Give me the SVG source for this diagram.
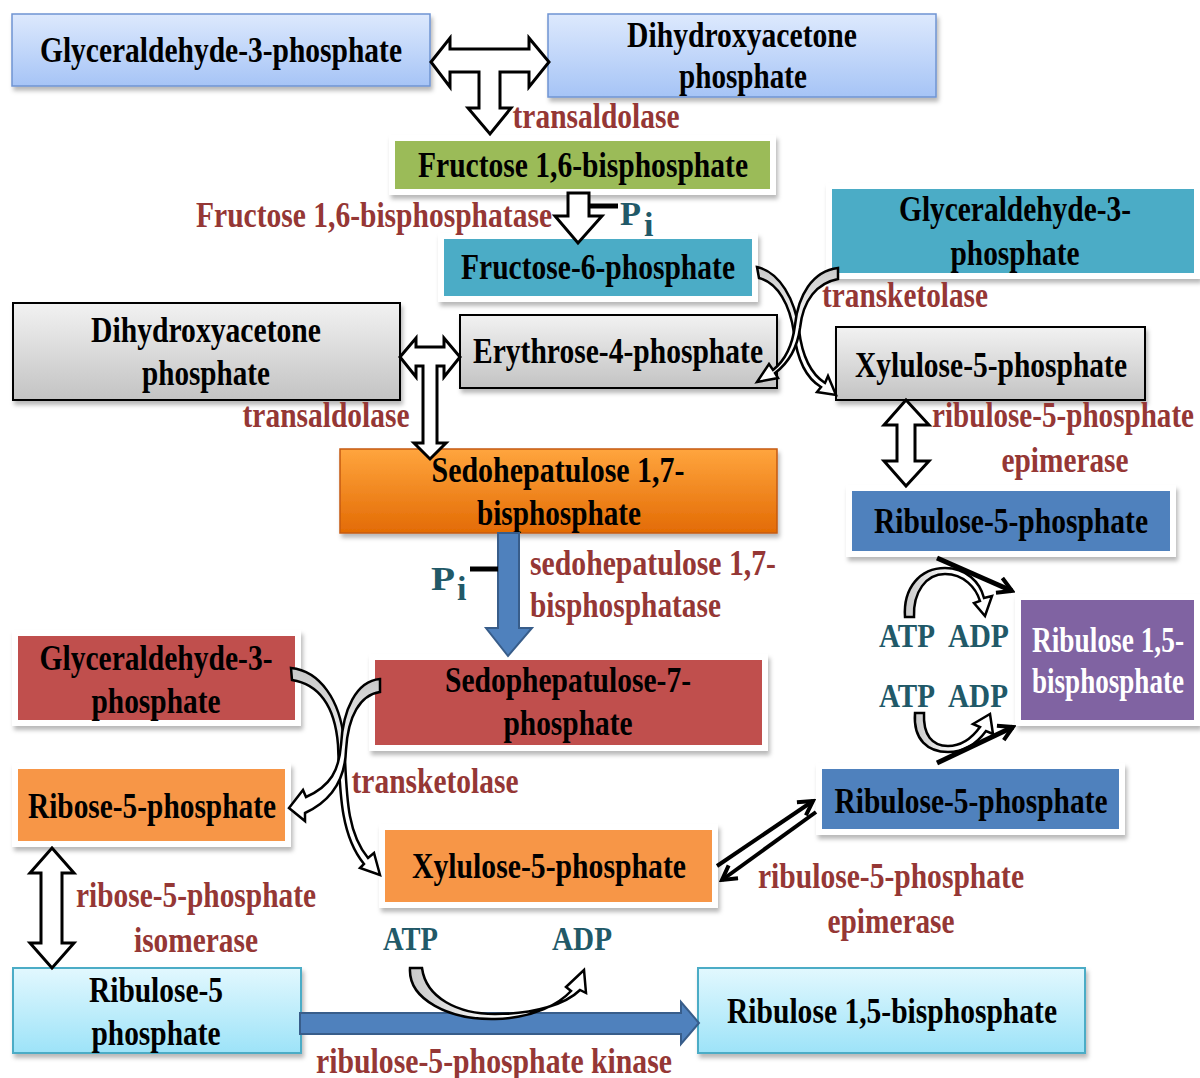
<svg xmlns="http://www.w3.org/2000/svg" width="1200" height="1078" viewBox="0 0 1200 1078">
<defs>
<filter id="sh" x="-5%" y="-10%" width="115%" height="135%">
<feDropShadow dx="2" dy="4" stdDeviation="2" flood-color="#000" flood-opacity="0.28"/>
</filter>
<linearGradient id="gLB" x1="0" y1="0" x2="0" y2="1"><stop offset="0" stop-color="#dde9fd"/><stop offset="1" stop-color="#a6c4f6"/></linearGradient>
<linearGradient id="gGray" x1="0" y1="0" x2="0" y2="1"><stop offset="0" stop-color="#f2f2f2"/><stop offset="1" stop-color="#c3c3c3"/></linearGradient>
<linearGradient id="gCyan" x1="0" y1="0" x2="0" y2="1"><stop offset="0" stop-color="#e2f8fe"/><stop offset="1" stop-color="#9de3f8"/></linearGradient>
<linearGradient id="gOr" x1="0" y1="0" x2="0" y2="1"><stop offset="0" stop-color="#ffa53e"/><stop offset="1" stop-color="#e36b04"/></linearGradient>
<linearGradient id="hL" x1="0" y1="0" x2="1" y2="0"><stop offset="0" stop-color="#c8c8c8"/><stop offset="0.55" stop-color="#ffffff"/></linearGradient>
<linearGradient id="hV" x1="0" y1="0" x2="0" y2="1"><stop offset="0" stop-color="#c8c8c8"/><stop offset="0.55" stop-color="#ffffff"/></linearGradient>
<marker id="vh" viewBox="0 0 20 20" refX="17" refY="10" markerWidth="20" markerHeight="20" markerUnits="userSpaceOnUse" orient="auto">
<path d="M3,2 L17,10 L3,18" fill="none" stroke="#000" stroke-width="4"/>
</marker>
<style>
.t{font-family:"Liberation Serif","Times New Roman",serif;font-weight:bold;font-size:36px;fill:#000;text-anchor:middle}
.lab{font-family:"Liberation Serif","Times New Roman",serif;font-weight:bold;font-size:36px;fill:#953735;text-anchor:middle}
.tl{font-family:"Liberation Serif","Times New Roman",serif;font-weight:bold;font-size:34px;fill:#215968}
.w{fill:#fff}
.fr{stroke:#fff;stroke-width:6;filter:url(#sh)}
.hol{fill:#fff;stroke:#000;stroke-width:3;stroke-linejoin:miter}
.blue{fill:#4f81bd;stroke:#385d8a;stroke-width:2}
.curv{stroke:#000;stroke-width:2.5;stroke-linejoin:miter}
.ln{stroke:#000;fill:none;marker-end:url(#vh)}
</style>
</defs>

<g id="n-g3p-top">
<rect x="12" y="14" width="418" height="72" fill="url(#gLB)" stroke="#6f94d2" stroke-width="1.5" filter="url(#sh)"/>
<text class="t" x="221" y="62" textLength="362" lengthAdjust="spacingAndGlyphs">Glyceraldehyde-3-phosphate</text>
</g>
<g id="n-dhap-top">
<rect x="548" y="14" width="388" height="83" fill="url(#gLB)" stroke="#6f94d2" stroke-width="1.5" filter="url(#sh)"/>
<text class="t" x="742" y="47" textLength="230" lengthAdjust="spacingAndGlyphs">Dihydroxyacetone</text>
<text class="t" x="743" y="88" textLength="128" lengthAdjust="spacingAndGlyphs">phosphate</text>
</g>
<g id="n-f16bp">
<rect x="392" y="138" width="381" height="54" fill="#9bbb59" class="fr"/>
<text class="t" x="583" y="177" textLength="330" lengthAdjust="spacingAndGlyphs">Fructose 1,6-bisphosphate</text>
</g>
<g id="n-f6p">
<rect x="441" y="236" width="314" height="63" fill="#4bacc6" class="fr"/>
<text class="t" x="598" y="279" textLength="274" lengthAdjust="spacingAndGlyphs">Fructose-6-phosphate</text>
</g>
<g id="n-g3p-right">
<rect x="829" y="186" width="368" height="90" fill="#4bacc6" class="fr"/>
<text class="t" x="1015" y="221" textLength="232" lengthAdjust="spacingAndGlyphs">Glyceraldehyde-3-</text>
<text class="t" x="1015" y="265" textLength="129" lengthAdjust="spacingAndGlyphs">phosphate</text>
</g>
<g id="n-dhap-gray">
<rect x="13" y="303" width="387" height="97" fill="url(#gGray)" stroke="#000" stroke-width="2" filter="url(#sh)"/>
<text class="t" x="206" y="342" textLength="230" lengthAdjust="spacingAndGlyphs">Dihydroxyacetone</text>
<text class="t" x="206" y="385" textLength="128" lengthAdjust="spacingAndGlyphs">phosphate</text>
</g>
<g id="n-e4p">
<rect x="460" y="315" width="317" height="73" fill="url(#gGray)" stroke="#000" stroke-width="2" filter="url(#sh)"/>
<text class="t" x="618" y="363" textLength="290" lengthAdjust="spacingAndGlyphs">Erythrose-4-phosphate</text>
</g>
<g id="n-xu5p-gray">
<rect x="836" y="327" width="309" height="73" fill="url(#gGray)" stroke="#000" stroke-width="2" filter="url(#sh)"/>
<text class="t" x="991" y="377" textLength="272" lengthAdjust="spacingAndGlyphs">Xylulose-5-phosphate</text>
</g>
<g id="n-s17bp">
<rect x="340" y="449" width="437" height="84" fill="url(#gOr)" stroke="#c55a11" stroke-width="1.5" filter="url(#sh)"/>
<text class="t" x="558" y="482" textLength="253" lengthAdjust="spacingAndGlyphs">Sedohepatulose 1,7-</text>
<text class="t" x="559" y="525" textLength="164" lengthAdjust="spacingAndGlyphs">bisphosphate</text>
</g>
<g id="n-ru5p-upper">
<rect x="849" y="488" width="324" height="66" fill="#4f81bd" class="fr"/>
<text class="t" x="1011" y="533" textLength="274" lengthAdjust="spacingAndGlyphs">Ribulose-5-phosphate</text>
</g>
<g id="n-rubp-purple">
<rect x="1018" y="597" width="179" height="126" fill="#8064a2" class="fr"/>
<text class="t w" x="1108" y="652" textLength="152" lengthAdjust="spacingAndGlyphs">Ribulose 1,5-</text>
<text class="t w" x="1108" y="693" textLength="152" lengthAdjust="spacingAndGlyphs">bisphosphate</text>
</g>
<g id="n-g3p-red">
<rect x="15" y="633" width="283" height="90" fill="#c0504d" class="fr"/>
<text class="t" x="156" y="670" textLength="233" lengthAdjust="spacingAndGlyphs">Glyceraldehyde-3-</text>
<text class="t" x="156" y="713" textLength="129" lengthAdjust="spacingAndGlyphs">phosphate</text>
</g>
<g id="n-s7p">
<rect x="372" y="657" width="393" height="91" fill="#c0504d" class="fr"/>
<text class="t" x="568" y="692" textLength="246" lengthAdjust="spacingAndGlyphs">Sedophepatulose-7-</text>
<text class="t" x="568" y="735" textLength="129" lengthAdjust="spacingAndGlyphs">phosphate</text>
</g>
<g id="n-r5p">
<rect x="15" y="766" width="273" height="78" fill="#f79646" class="fr"/>
<text class="t" x="152" y="818" textLength="248" lengthAdjust="spacingAndGlyphs">Ribose-5-phosphate</text>
</g>
<g id="n-xu5p-orange">
<rect x="382" y="827" width="333" height="78" fill="#f79646" class="fr"/>
<text class="t" x="549" y="878" textLength="274" lengthAdjust="spacingAndGlyphs">Xylulose-5-phosphate</text>
</g>
<g id="n-ru5p-lower">
<rect x="819" y="766" width="303" height="66" fill="#4f81bd" class="fr"/>
<text class="t" x="971" y="813" textLength="273" lengthAdjust="spacingAndGlyphs">Ribulose-5-phosphate</text>
</g>
<g id="n-ru5p-cyan">
<rect x="13" y="968" width="288" height="85" fill="url(#gCyan)" stroke="#4bacc6" stroke-width="2" filter="url(#sh)"/>
<text class="t" x="156" y="1002" textLength="134" lengthAdjust="spacingAndGlyphs">Ribulose-5</text>
<text class="t" x="156" y="1045" textLength="129" lengthAdjust="spacingAndGlyphs">phosphate</text>
</g>
<g id="n-rubp-cyan">
<rect x="698" y="968" width="387" height="85" fill="url(#gCyan)" stroke="#4bacc6" stroke-width="2" filter="url(#sh)"/>
<text class="t" x="892" y="1023" textLength="330" lengthAdjust="spacingAndGlyphs">Ribulose 1,5-bisphosphate</text>
</g>

<g id="connectors">
<polygon class="hol" points="431,62 450,38 450,49 529,49 529,38 549,62 529,87 529,72 500,72 500,108 511,108 490,134 468,108 479,108 479,72 450,72 450,87"/>
<polygon class="hol" points="568,193 589,193 589,216 602,216 578,243 555,216 568,216"/>
<line x1="589" y1="206" x2="618" y2="206" stroke="#000" stroke-width="5"/>
<polygon class="hol" points="400,357 416,338 416,347 444,347 444,338 460,357 444,377 444,366 437,366 437,443 446,443 430,459 414,443 423,443 423,366 416,366 416,377"/>
<polygon class="hol" points="906,400 929,425 915,425 915,461 929,461 906,486 884,461 897,461 897,425 884,425"/>
<polygon class="hol" points="52,848 74,873 62,873 62,943 74,943 52,968 30,943 41,943 41,873 30,873"/>
<polygon class="blue" points="498,533 519,533 519,628 532,628 508,656 486,628 498,628"/>
<line x1="470" y1="569" x2="498" y2="569" stroke="#000" stroke-width="5"/>
<polygon class="blue" points="300,1013 681,1013 681,1002 699,1023 681,1044 681,1034 300,1034"/>
<path class="curv" fill="url(#hV)" d="M757,267 C780,272 795,300 799,330 C802,355 811,374 825,383 L828,376 L836,395 L817,392 L821,387 C806,378 797,358 794,333 C790,305 778,283 759,278 Z"/>
<path class="curv" fill="url(#hV)" d="M838,268 C812,271 798,296 795,325 C792,350 783,362 773,370 L769,364 L757,382 L778,378 L775,373 C787,364 797,350 800,328 C803,300 817,283 838,279 Z"/>
<path class="curv" fill="url(#hV)" d="M291,668 C320,671 340,700 344,740 C347,790 345,830 368,858 L374,853 L380,875 L360,868 L364,864 C340,835 340,790 338,745 C335,705 318,684 292,680 Z"/>
<path class="curv" fill="url(#hV)" d="M380,679 C356,681 343,710 341,745 C339,770 331,786 306,797 L303,790 L289,808 L305,821 L305,813 C331,801 345,781 346,750 C348,716 360,695 380,692 Z"/>
<path class="curv" fill="url(#hL)" d="M410,968 C408,1000 450,1020 495,1019 C535,1018 560,1003 571,991 L566,987 L584,970 L586,993 L580,990 C566,1004 535,1014 495,1014 C458,1014 426,998 422,968 Z"/>
<path class="curv" fill="url(#hL)" d="M905,617 C903,588 920,568 945,568 C966,568 980,582 984,598 L992,596 L985,616 L974,603 L980,601 C976,588 964,574 945,574 C926,574 913,592 914,617 Z"/>
<path class="curv" fill="url(#hL)" d="M915,713 C913,740 928,752 948,752 C965,752 978,742 986,731 L993,734 L990,714 L973,724 L980,727 C972,738 962,746 948,746 C932,746 923,735 924,713 Z"/>
<line class="ln" x1="937" y1="558" x2="1012" y2="591" stroke-width="5"/>
<line class="ln" x1="937" y1="763" x2="1013" y2="727" stroke-width="5"/>
<line class="ln" x1="717" y1="866" x2="813" y2="801" stroke-width="4"/>
<line class="ln" x1="816" y1="812" x2="722" y2="880" stroke-width="4"/>
</g>

<g id="labels">
<text class="lab" x="596" y="128" textLength="167" lengthAdjust="spacingAndGlyphs">transaldolase</text>
<text class="lab" x="374" y="227" textLength="356" lengthAdjust="spacingAndGlyphs">Fructose 1,6-bisphosphatase</text>
<text class="tl" x="620" y="225" font-size="38" textLength="21" lengthAdjust="spacingAndGlyphs">P</text>
<text class="tl" x="644" y="236" font-size="26">i</text>
<text class="lab" x="905" y="307" textLength="166" lengthAdjust="spacingAndGlyphs">transketolase</text>
<text class="lab" x="326" y="427" textLength="167" lengthAdjust="spacingAndGlyphs">transaldolase</text>
<text class="lab" x="1063" y="427" textLength="262" lengthAdjust="spacingAndGlyphs">ribulose-5-phosphate</text>
<text class="lab" x="1065" y="472" textLength="127" lengthAdjust="spacingAndGlyphs">epimerase</text>
<text class="tl" x="431" y="590" font-size="50" textLength="24" lengthAdjust="spacingAndGlyphs">P</text>
<text class="tl" x="457" y="600" font-size="30">i</text>
<text class="lab" x="530" y="575" style="text-anchor:start" textLength="246" lengthAdjust="spacingAndGlyphs">sedohepatulose 1,7-</text>
<text class="lab" x="530" y="617" style="text-anchor:start" textLength="191" lengthAdjust="spacingAndGlyphs">bisphosphatase</text>
<text class="tl" x="879" y="647" textLength="56" lengthAdjust="spacingAndGlyphs">ATP</text>
<text class="tl" x="948" y="647" textLength="61" lengthAdjust="spacingAndGlyphs">ADP</text>
<text class="tl" x="879" y="707" textLength="56" lengthAdjust="spacingAndGlyphs">ATP</text>
<text class="tl" x="948" y="707" textLength="60" lengthAdjust="spacingAndGlyphs">ADP</text>
<text class="lab" x="435" y="793" textLength="167" lengthAdjust="spacingAndGlyphs">transketolase</text>
<text class="lab" x="891" y="888" textLength="266" lengthAdjust="spacingAndGlyphs">ribulose-5-phosphate</text>
<text class="lab" x="891" y="933" textLength="127" lengthAdjust="spacingAndGlyphs">epimerase</text>
<text class="lab" x="196" y="907" textLength="240" lengthAdjust="spacingAndGlyphs">ribose-5-phosphate</text>
<text class="lab" x="196" y="952" textLength="124" lengthAdjust="spacingAndGlyphs">isomerase</text>
<text class="tl" x="383" y="950" textLength="55" lengthAdjust="spacingAndGlyphs">ATP</text>
<text class="tl" x="552" y="950" textLength="60" lengthAdjust="spacingAndGlyphs">ADP</text>
<text class="lab" x="494" y="1073" textLength="356" lengthAdjust="spacingAndGlyphs">ribulose-5-phosphate kinase</text>
</g>
</svg>
